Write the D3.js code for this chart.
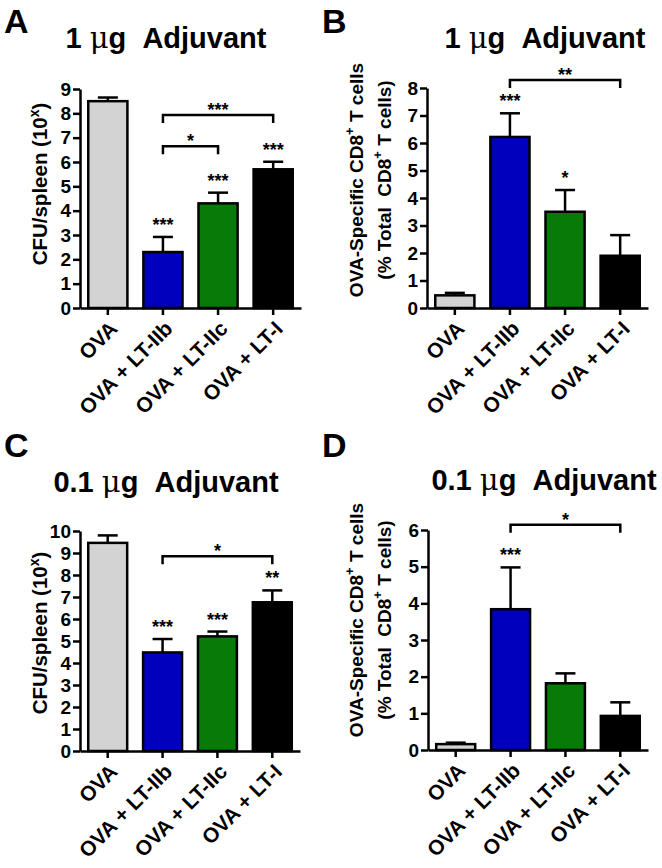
<!DOCTYPE html>
<html>
<head>
<meta charset="utf-8">
<script src="https://cdn.jsdelivr.net/npm/d3@7"></script>
<style>
  body { margin: 0; background: #fff; }
</style>
</head>
<body>
<div id="chart"></div>
<script>
var FONT = "Arial, 'Liberation Sans', sans-serif";

// groups shared by all four panels
var groups = ["OVA", "OVA + LT-IIb", "OVA + LT-IIc", "OVA + LT-I"];
var barColors = ["#d3d3d3", "#0000bd", "#077a07", "#000000"];

// A: CFU/spleen, 1 ug adjuvant
var cfu1Mean = [8.5, 2.3, 4.3, 5.7];
var cfu1Err = [0.15, 0.62, 0.44, 0.31];
var cfu1Stars = ["", "***", "***", "***"];
var cfu1Brackets = [{ from: 1, to: 2, y: 6.65, label: "*" }, { from: 1, to: 3, y: 7.93, label: "***" }];

// B: OVA-specific CD8+ T cells, 1 ug adjuvant
var cd81Mean = [0.46, 6.22, 3.5, 1.9];
var cd81Err = [0.09, 0.86, 0.79, 0.75];
var cd81Stars = ["", "***", "*", ""];
var cd81Brackets = [{ from: 1, to: 3, y: 8.29, label: "**" }];

// C: CFU/spleen, 0.1 ug adjuvant
var cfu01Mean = [9.46, 4.48, 5.21, 6.76];
var cfu01Err = [0.34, 0.61, 0.22, 0.54];
var cfu01Stars = ["", "***", "***", "**"];
var cfu01Brackets = [{ from: 1, to: 3, y: 8.85, label: "*" }];

// D: OVA-specific CD8+ T cells, 0.1 ug adjuvant
var cd801Mean = [0.16, 3.84, 1.82, 0.93];
var cd801Err = [0.04, 1.14, 0.27, 0.37];
var cd801Stars = ["", "***", "", ""];
var cd801Brackets = [{ from: 1, to: 3, y: 6.14, label: "*" }];

var panels = [
  { letter: "A", dose: "1", mean: cfu1Mean, err: cfu1Err, stars: cfu1Stars, brackets: cfu1Brackets,
    yMax: 9, left: 80, right: 301, top: 89, bottom: 308, titleX: 166, titleY: 48, letterX: 4, letterY: 33,
    yLabel: "cfu", labelX: [40], labelY: 184 },
  { letter: "B", dose: "1", mean: cd81Mean, err: cd81Err, stars: cd81Stars, brackets: cd81Brackets,
    yMax: 8, left: 427, right: 648, top: 88, bottom: 308, titleX: 545, titleY: 48, letterX: 322, letterY: 33,
    yLabel: "cd8", labelX: [356, 384], labelY: 180 },
  { letter: "C", dose: "0.1", mean: cfu01Mean, err: cfu01Err, stars: cfu01Stars, brackets: cfu01Brackets,
    yMax: 10, left: 80, right: 300, top: 531, bottom: 751, titleX: 166, titleY: 492, letterX: 4, letterY: 457,
    yLabel: "cfu", labelX: [40], labelY: 633 },
  { letter: "D", dose: "0.1", mean: cd801Mean, err: cd801Err, stars: cd801Stars, brackets: cd801Brackets,
    yMax: 6, left: 428, right: 648, top: 530, bottom: 750, titleX: 544, titleY: 490, letterX: 322, letterY: 457,
    yLabel: "cd8", labelX: [356, 384], labelY: 620 }
];

var svg = d3.select("#chart").append("svg")
  .attr("width", 662)
  .attr("height", 868)
  .attr("font-family", FONT);

panels.forEach(function(p) {
  var g = svg.append("g");

  var x = d3.scaleBand()
    .domain(groups)
    .range([p.left, p.right])
    .paddingInner(0.29)
    .paddingOuter(0.15);

  var y = d3.scaleLinear()
    .domain([0, p.yMax])
    .range([p.bottom, p.top]);

  // panel letter
  g.append("text")
    .attr("x", p.letterX)
    .attr("y", p.letterY)
    .attr("font-size", 34)
    .attr("font-weight", "bold")
    .text(p.letter);

  // title
  var title = g.append("text")
    .attr("x", p.titleX)
    .attr("y", p.titleY)
    .attr("text-anchor", "middle")
    .attr("font-size", 29)
    .attr("font-weight", "bold");
  title.append("tspan").text(p.dose + " ");
  title.append("tspan").attr("font-weight", "normal").attr("font-family", "'DejaVu Serif', serif").text("\u03bc");
  title.append("tspan").text("g\u00a0\u00a0Adjuvant");

  // y label
  if (p.yLabel === "cfu") {
    var t = g.append("text")
      .attr("transform", "translate(" + p.labelX[0] + "," + p.labelY + ") rotate(-90)")
      .attr("text-anchor", "middle")
      .attr("dy", "0.35em")
      .attr("font-size", 20.5)
      .attr("font-weight", "bold");
    t.append("tspan").text("CFU/spleen (10");
    t.append("tspan").attr("font-size", 14).attr("dy", "-0.6em").text("x");
    t.append("tspan").attr("dy", "0.4em").text(")");
  } else {
    var lines = [["OVA-Specific CD8", "T cells"], ["(% Total\u00a0\u00a0CD8", "T cells)"]];
    lines.forEach(function(l, i) {
      var t2 = g.append("text")
        .attr("transform", "translate(" + p.labelX[i] + "," + p.labelY + ") rotate(-90)")
        .attr("text-anchor", "middle")
        .attr("dy", "0.35em")
        .attr("font-size", 19)
        .attr("font-weight", "bold");
      t2.append("tspan").text(l[0]);
      t2.append("tspan").attr("font-size", 13).attr("dy", "-0.7em").text("+");
      t2.append("tspan").attr("dy", "0.5em").text("\u00a0" + l[1]);
    });
  }

  // bars
  g.selectAll("rect.bar")
    .data(p.mean)
    .enter().append("rect")
    .attr("class", "bar")
    .attr("x", (d, i) => x(groups[i]))
    .attr("y", d => y(d))
    .attr("width", x.bandwidth())
    .attr("height", d => y(0) - y(d))
    .attr("fill", (d, i) => barColors[i])
    .attr("stroke", "#000")
    .attr("stroke-width", 2.5);

  // error bars (upper only)
  var cap = 20;
  p.mean.forEach(function(m, i) {
    var cx = x(groups[i]) + x.bandwidth() / 2;
    g.append("line")
      .attr("x1", cx).attr("x2", cx)
      .attr("y1", y(m)).attr("y2", y(m + p.err[i]))
      .attr("stroke", "#000").attr("stroke-width", 2.5);
    g.append("line")
      .attr("x1", cx - cap / 2).attr("x2", cx + cap / 2)
      .attr("y1", y(m + p.err[i])).attr("y2", y(m + p.err[i]))
      .attr("stroke", "#000").attr("stroke-width", 2.5);
    if (p.stars[i]) {
      g.append("text")
        .attr("x", cx)
        .attr("y", y(m + p.err[i]) - 6)
        .attr("text-anchor", "middle")
        .attr("font-size", 18)
        .attr("font-weight", "bold")
        .text(p.stars[i]);
    }
  });

  // comparison brackets
  p.brackets.forEach(function(b) {
    var x1 = x(groups[b.from]) + x.bandwidth() / 2;
    var x2 = x(groups[b.to]) + x.bandwidth() / 2;
    var yb = y(b.y);
    g.append("path")
      .attr("d", "M" + x1 + "," + (yb + 8) + "V" + yb + "H" + x2 + "V" + (yb + 8))
      .attr("fill", "none")
      .attr("stroke", "#000")
      .attr("stroke-width", 2.5);
    g.append("text")
      .attr("x", (x1 + x2) / 2)
      .attr("y", yb + 1)
      .attr("text-anchor", "middle")
      .attr("font-size", 18)
      .attr("font-weight", "bold")
      .text(b.label);
  });

  // axes
  var yAxis = g.append("g")
    .attr("transform", "translate(" + p.left + ",0)")
    .call(d3.axisLeft(y).tickValues(d3.range(0, p.yMax + 1)).tickSize(7).tickSizeOuter(0).tickPadding(2).tickFormat(d3.format("d")));

  var xAxis = g.append("g")
    .attr("transform", "translate(0," + p.bottom + ")")
    .call(d3.axisBottom(x).tickSize(7).tickSizeOuter(0));

  [yAxis, xAxis].forEach(function(a) {
    a.attr("font-family", FONT);
    a.select(".domain").attr("stroke-width", 2.5);
    a.selectAll(".tick line").attr("stroke-width", 2.5);
    a.selectAll("text")
      .attr("font-weight", "bold")
      .attr("fill", "#000");
  });
  yAxis.attr("font-size", 19);
  xAxis.attr("font-size", 21);

  xAxis.selectAll("text")
    .attr("text-anchor", "end")
    .attr("dy", 0)
    .attr("y", 0)
    .attr("x", 0)
    .attr("transform", "translate(11,22) rotate(-45)");
});
</script>
</body>
</html>
